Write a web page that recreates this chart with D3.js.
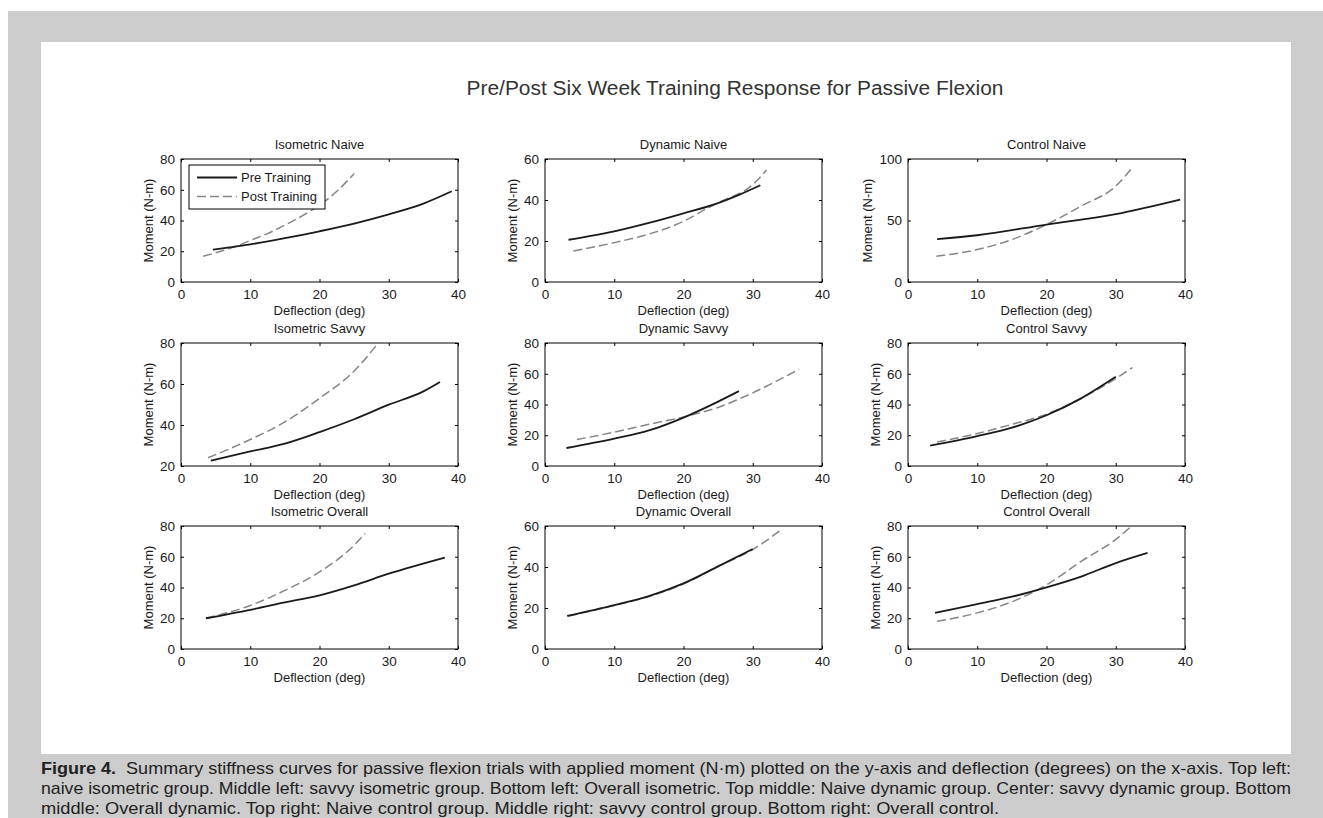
<!DOCTYPE html>
<html>
<head>
<meta charset="utf-8">
<title>Passive Flexion</title>
<script src="https://d3js.org/d3.v7.min.js"></script>
<style>
  body { margin: 0; background: #fff; }
  text { font-family: "Liberation Sans", Arial, sans-serif; fill: #1a1a1a; }
</style>
</head>
<body>
<svg width="1323" height="818"></svg>
<script>
// data: [deflection (deg), moment (N-m)]
const xTicks = [0, 10, 20, 30, 40];

const panelTitles = ["Isometric Naive", "Dynamic Naive", "Control Naive",
                     "Isometric Savvy", "Dynamic Savvy", "Control Savvy",
                     "Isometric Overall", "Dynamic Overall", "Control Overall"];

const yDomains = [[0, 80], [0, 60], [0, 100],
                  [20, 80], [0, 80], [0, 80],
                  [0, 80], [0, 60], [0, 80]];

const yTicks = [[0, 20, 40, 60, 80], [0, 20, 40, 60], [0, 50, 100],
                [20, 40, 60, 80], [0, 20, 40, 60, 80], [0, 20, 40, 60, 80],
                [0, 20, 40, 60, 80], [0, 20, 40, 60], [0, 20, 40, 60, 80]];

const isoNaivePre  = [[4.6, 21], [7, 22.5], [10, 24.5], [15, 28.5], [20, 33], [25, 38], [30, 44], [35, 51], [39.1, 59]];
const isoNaivePost = [[3.2, 16.7], [5, 19], [7.5, 22.5], [10, 27], [12.5, 31.5], [15, 37], [17.5, 43], [20, 50], [22.5, 59], [25, 70.5]];

const dynNaivePre  = [[3.4, 20.6], [10, 24.7], [15, 28.8], [20, 33.5], [25, 38.5], [28, 42.5], [31.1, 47.2]];
const dynNaivePost = [[4.1, 15.1], [10, 19.2], [15, 23.4], [20, 29.6], [23, 35.2], [25, 38.7], [30, 47.5], [32, 54.6]];

const ctrlNaivePre  = [[4.2, 34.8], [10, 38], [20, 46.7], [30, 55.2], [39.3, 67]];
const ctrlNaivePost = [[4.1, 20.9], [10, 26.4], [15, 34.5], [20, 46.7], [25, 61.7], [30, 78], [32.5, 93.7]];

const isoSavvyPre  = [[4.3, 22.6], [10, 27.1], [15, 30.9], [20, 36.5], [25, 42.8], [30, 49.9], [35, 56.4], [37.4, 61]];
const isoSavvyPost = [[3.9, 24], [10, 32.9], [15, 41.5], [20, 53], [25, 66.3], [28.3, 79.2]];

const dynSavvyPre  = [[3.1, 11.7], [10, 17.8], [15, 23.1], [20, 31.5], [25, 41.9], [28, 48.7]];
const dynSavvyPost = [[4.6, 17.2], [10, 22], [15, 27.1], [20, 31.9], [25, 38.1], [30, 47.6], [36.7, 63]];

const ctrlSavvyPre  = [[3.2, 13.2], [10, 19.4], [15, 24.9], [20, 33], [25, 44], [30, 58]];
const ctrlSavvyPost = [[4.2, 15.6], [10, 21.1], [15, 27.1], [20, 33.7], [25, 44], [30, 56.8], [32.4, 64]];

const isoOverallPre  = [[3.6, 20], [10, 25.5], [15, 30.3], [20, 34.9], [25, 41.4], [30, 49], [38.1, 59.5]];
const isoOverallPost = [[3.6, 20], [10, 28.3], [15, 38.1], [20, 50.1], [25, 67.5], [26.6, 75.2]];

const dynOverallPre  = [[3.2, 16.1], [10, 21.4], [15, 25.8], [20, 32], [25, 40.3], [30, 48.8]];
const dynOverallPost = [[3.3, 16], [10, 21.2], [15, 25.6], [20, 31.7], [25, 40.3], [30, 48.5], [34.3, 58.7]];

const ctrlOverallPre  = [[3.9, 23.5], [10, 29.2], [15, 34], [20, 40.1], [25, 47.1], [30, 55.9], [34.6, 62.5]];
const ctrlOverallPost = [[4.2, 18], [10, 23.5], [15, 30.7], [20, 41.7], [25, 57], [30, 71.3], [32.2, 79.6]];

const preSeries  = [isoNaivePre, dynNaivePre, ctrlNaivePre, isoSavvyPre, dynSavvyPre, ctrlSavvyPre, isoOverallPre, dynOverallPre, ctrlOverallPre];
const postSeries = [isoNaivePost, dynNaivePost, ctrlNaivePost, isoSavvyPost, dynSavvyPost, ctrlSavvyPost, isoOverallPost, dynOverallPost, ctrlOverallPost];

const legendLabels = ["Pre Training", "Post Training"];

const captionLines = [
  "Summary stiffness curves for passive flexion trials with applied moment (N\u00b7m) plotted on the y-axis and deflection (degrees) on the x-axis. Top left:",
  "naive isometric group. Middle left: savvy isometric group. Bottom left: Overall isometric. Top middle: Naive dynamic group. Center: savvy dynamic group. Bottom",
  "middle: Overall dynamic. Top right: Naive control group. Middle right: savvy control group. Bottom right: Overall control."
];
const captionWidths = [1250, 1250, 958];

// layout
const colLeft = [181, 545, 908];
const rowTop = [159, 343, 526];
const boxW = 277;
const boxH = 123;

const svg = d3.select("svg");

// grey page + white figure area
svg.append("rect").attr("x", 8).attr("y", 11).attr("width", 1315).attr("height", 807).attr("fill", "#cccccc");
svg.append("rect").attr("x", 41).attr("y", 42).attr("width", 1250).attr("height", 712).attr("fill", "#ffffff");

svg.append("text")
  .attr("x", 735).attr("y", 95)
  .attr("text-anchor", "middle")
  .attr("textLength", 537).attr("lengthAdjust", "spacingAndGlyphs")
  .style("font-size", "20px").style("fill", "#333")
  .text("Pre/Post Six Week Training Response for Passive Flexion");

const line = d3.line().curve(d3.curveMonotoneX);

panelTitles.forEach(function(title, i) {
  const left = colLeft[i % 3], top = rowTop[Math.floor(i / 3)];
  const g = svg.append("g").attr("transform", `translate(${left},${top})`);

  const x = d3.scaleLinear().domain([0, 40]).range([0, boxW]);
  const y = d3.scaleLinear().domain(yDomains[i]).range([boxH, 0]);

  g.append("clipPath").attr("id", "clip" + i)
    .append("rect").attr("width", boxW).attr("height", boxH);

  // axes, ticks pointing inward like matlab
  const xb = g.append("g").attr("transform", `translate(0,${boxH})`)
    .call(d3.axisBottom(x).tickValues(xTicks).tickSizeInner(-3).tickSizeOuter(0).tickPadding(7));
  const xt = g.append("g")
    .call(d3.axisTop(x).tickValues(xTicks).tickSizeInner(-3).tickSizeOuter(0).tickFormat(""));
  const yl = g.append("g")
    .call(d3.axisLeft(y).tickValues(yTicks[i]).tickSizeInner(-3).tickSizeOuter(0).tickPadding(6));
  const yr = g.append("g").attr("transform", `translate(${boxW},0)`)
    .call(d3.axisRight(y).tickValues(yTicks[i]).tickSizeInner(-3).tickSizeOuter(0).tickFormat(""));
  [xb, xt, yl, yr].forEach(function(a) {
    a.select(".domain").remove();
    a.selectAll("line").attr("stroke", "#000");
    a.selectAll("text").style("font-size", "13.5px").style("fill", "#1a1a1a");
  });

  g.append("rect").attr("width", boxW).attr("height", boxH)
    .attr("fill", "none").attr("stroke", "#000").attr("stroke-width", 1);

  const curves = g.append("g").attr("clip-path", `url(#clip${i})`);
  curves.append("path")
    .attr("d", line(postSeries[i].map(d => [x(d[0]), y(d[1])])))
    .attr("fill", "none").attr("stroke", "#858585").attr("stroke-width", 1.5)
    .attr("stroke-dasharray", "9,4");
  curves.append("path")
    .attr("d", line(preSeries[i].map(d => [x(d[0]), y(d[1])])))
    .attr("fill", "none").attr("stroke", "#1a1a1a").attr("stroke-width", 1.8);

  g.append("text")
    .attr("x", boxW / 2).attr("y", -10)
    .attr("text-anchor", "middle").style("font-size", "13px")
    .text(title);

  g.append("text")
    .attr("x", boxW / 2).attr("y", boxH + 33)
    .attr("text-anchor", "middle").style("font-size", "13px")
    .text("Deflection (deg)");

  const labW = d3.max(yl.selectAll("text").nodes(), n => n.getComputedTextLength());
  g.append("text")
    .attr("transform", `translate(${-labW - 13},${boxH / 2}) rotate(-90)`)
    .attr("text-anchor", "middle").style("font-size", "13px")
    .text("Moment (N-m)");

  // legend only in first panel
  if (i === 0) {
    const lg = g.append("g").attr("transform", "translate(8,6)");
    lg.append("rect").attr("width", 136).attr("height", 44)
      .attr("fill", "#fff").attr("stroke", "#000");
    legendLabels.forEach(function(lab, k) {
      const ly = 12.5 + k * 19;
      lg.append("line").attr("x1", 8).attr("x2", 48).attr("y1", ly).attr("y2", ly)
        .attr("stroke", k === 0 ? "#1a1a1a" : "#858585")
        .attr("stroke-width", k === 0 ? 1.8 : 1.5)
        .attr("stroke-dasharray", k === 0 ? null : "9,4");
      lg.append("text").attr("x", 52).attr("y", ly + 4.5)
        .style("font-size", "13px").text(lab);
    });
  }
});

// caption, first two lines stretched to the full width
const cap = svg.append("g");
captionLines.forEach(function(t, k) {
  const txt = cap.append("text")
    .attr("x", 41).attr("y", 774 + k * 20)
    .style("font-size", "17px").style("fill", "#222");
  if (k === 0) {
    txt.append("tspan").style("font-weight", "bold").text("Figure 4.");
    txt.append("tspan").text("\u00a0 " + t);
  } else {
    txt.text(t);
  }
  txt.attr("textLength", captionWidths[k]).attr("lengthAdjust", "spacingAndGlyphs");
});
</script>
</body>
</html>
